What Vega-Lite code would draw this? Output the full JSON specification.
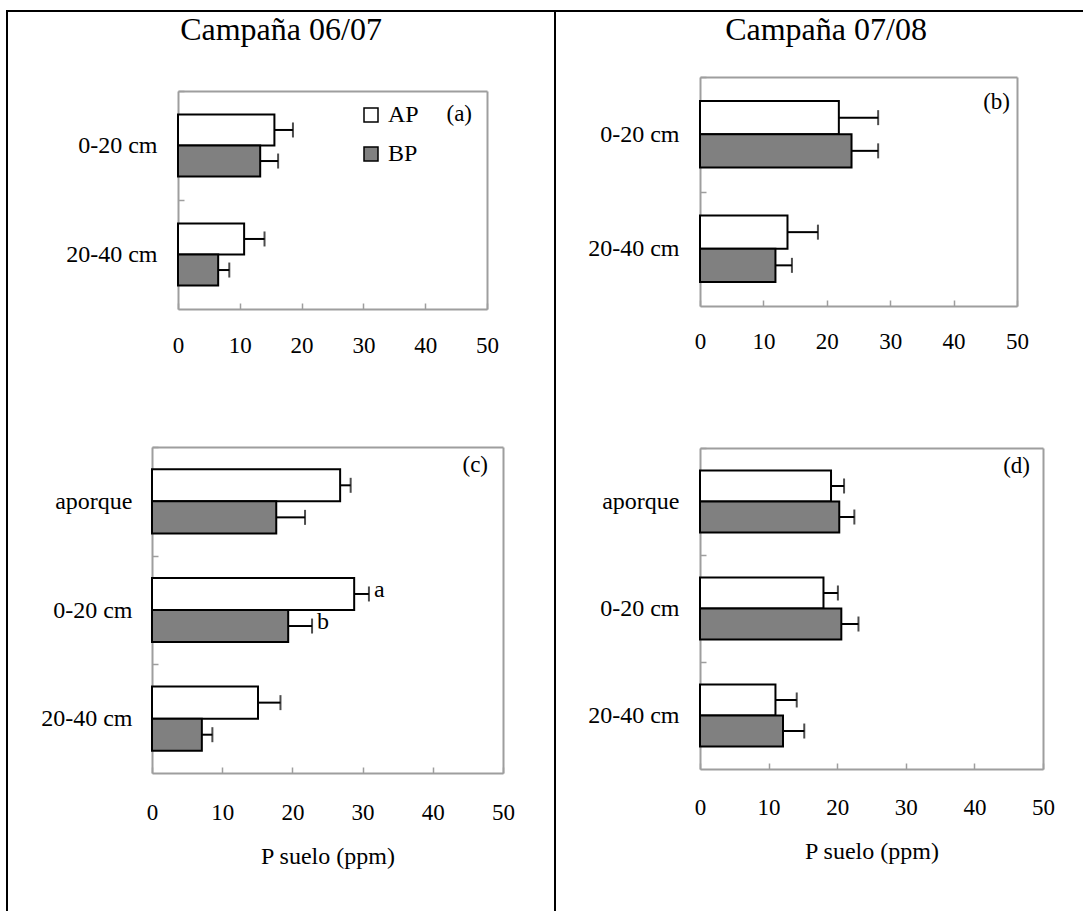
{
  "$schema": "https://vega.github.io/schema/vega-lite/v6.json",
  "padding": {"left": 6, "top": 10, "right": -21, "bottom": -11},
  "spacing": 0,
  "bounds": "flush",
  "resolve": {"scale": {"yOffset": "independent", "fill": "independent"}},
  "datasets": {
    "p": [
      {"panel": "a", "depth": "0-20 cm", "trat": "AP", "value": 15.6, "hi": 18.6, "sig": ""},
      {"panel": "a", "depth": "0-20 cm", "trat": "BP", "value": 13.3, "hi": 16.2, "sig": ""},
      {"panel": "a", "depth": "20-40 cm", "trat": "AP", "value": 10.7, "hi": 14.0, "sig": ""},
      {"panel": "a", "depth": "20-40 cm", "trat": "BP", "value": 6.5, "hi": 8.3, "sig": ""},
      {"panel": "b", "depth": "0-20 cm", "trat": "AP", "value": 21.9, "hi": 28.1, "sig": ""},
      {"panel": "b", "depth": "0-20 cm", "trat": "BP", "value": 23.9, "hi": 28.1, "sig": ""},
      {"panel": "b", "depth": "20-40 cm", "trat": "AP", "value": 13.8, "hi": 18.6, "sig": ""},
      {"panel": "b", "depth": "20-40 cm", "trat": "BP", "value": 11.9, "hi": 14.5, "sig": ""},
      {"panel": "c", "depth": "aporque", "trat": "AP", "value": 26.8, "hi": 28.3, "sig": ""},
      {"panel": "c", "depth": "aporque", "trat": "BP", "value": 17.7, "hi": 21.8, "sig": ""},
      {"panel": "c", "depth": "0-20 cm", "trat": "AP", "value": 28.8, "hi": 30.9, "sig": "a"},
      {"panel": "c", "depth": "0-20 cm", "trat": "BP", "value": 19.4, "hi": 22.8, "sig": "b"},
      {"panel": "c", "depth": "20-40 cm", "trat": "AP", "value": 15.1, "hi": 18.3, "sig": ""},
      {"panel": "c", "depth": "20-40 cm", "trat": "BP", "value": 7.1, "hi": 8.6, "sig": ""},
      {"panel": "d", "depth": "aporque", "trat": "AP", "value": 19.1, "hi": 21.0, "sig": ""},
      {"panel": "d", "depth": "aporque", "trat": "BP", "value": 20.3, "hi": 22.5, "sig": ""},
      {"panel": "d", "depth": "0-20 cm", "trat": "AP", "value": 18.0, "hi": 20.1, "sig": ""},
      {"panel": "d", "depth": "0-20 cm", "trat": "BP", "value": 20.6, "hi": 23.1, "sig": ""},
      {"panel": "d", "depth": "20-40 cm", "trat": "AP", "value": 11.0, "hi": 14.1, "sig": ""},
      {"panel": "d", "depth": "20-40 cm", "trat": "BP", "value": 12.1, "hi": 15.2, "sig": ""}
    ]
  },
  "data": {"name": "p"},
  "hconcat": [
    {
      "width": 548,
      "height": 910,
      "view": {"stroke": "black", "strokeWidth": 2, "fill": null},
      "resolve": {"scale": {"x": "independent", "y": "independent", "yOffset": "independent", "fill": "independent"}},
      "layer": [
        {
          "transform": [{"filter": "datum.panel == 'a'"}],
          "resolve": {"axis": {"x": "independent", "y": "independent"}},
          "layer": [
            {
              "mark": {"type": "bar", "stroke": "black", "strokeWidth": 2},
              "encoding": {
                "y": {"field": "depth", "type": "nominal", "scale": {"domain": ["0-20 cm", "20-40 cm"], "range": [80, 298], "paddingInner": 0.43, "paddingOuter": 0.215},
                  "axis": {"orient": "left", "offset": -171, "title": null, "domainColor": "#9e9e9e", "domainWidth": 2, "tickColor": "#9e9e9e", "tickWidth": 1.5, "tickSize": -6, "tickOffset": -54.5, "labelOffset": 54.5, "labelPadding": 27, "labelFontSize": 24, "labelColor": "black", "labelLimit": 300, "labelAngle": 0}},
                "yOffset": {"field": "trat", "type": "nominal", "scale": {"domain": ["AP", "BP"]}},
                "x": {"field": "value", "type": "quantitative", "scale": {"domain": [0, 50], "range": [171, 480], "nice": false, "zero": false},
                  "axis": {"orient": "bottom", "offset": -612, "title": null, "values": [0, 10, 20, 30, 40, 50], "grid": false, "domainColor": "#9e9e9e", "domainWidth": 2, "tickColor": "#9e9e9e", "tickWidth": 1.5, "tickSize": -6, "labelPadding": 31, "labelFontSize": 23, "labelColor": "black", "labelFlush": false}},
                "fill": {"field": "trat", "type": "nominal", "scale": {"domain": ["AP", "BP"], "range": ["white", "#808080"]},
                  "legend": {"orient": "none", "legendX": 352, "legendY": 92, "title": null, "symbolType": "square", "symbolSize": 196, "symbolStrokeColor": "black", "symbolStrokeWidth": 1.5, "labelFontSize": 24, "labelColor": "black", "labelOffset": 5, "rowPadding": 15, "padding": 0}}
              }
            },
            {
              "mark": {"type": "rule", "color": "black", "strokeWidth": 2},
              "encoding": {
                "y": {"field": "depth", "type": "nominal", "scale": {"domain": ["0-20 cm", "20-40 cm"], "range": [80, 298], "paddingInner": 0.43, "paddingOuter": 0.215}, "axis": null},
                "yOffset": {"field": "trat", "type": "nominal", "scale": {"domain": ["AP", "BP"]}},
                "x": {"field": "value", "type": "quantitative", "scale": {"domain": [0, 50], "range": [171, 480], "nice": false, "zero": false}, "axis": null},
                "x2": {"field": "hi"}
              }
            },
            {
              "mark": {"type": "tick", "orient": "vertical", "color": "black", "thickness": 2, "size": 15},
              "encoding": {
                "y": {"field": "depth", "type": "nominal", "scale": {"domain": ["0-20 cm", "20-40 cm"], "range": [80, 298], "paddingInner": 0.43, "paddingOuter": 0.215}, "axis": null},
                "yOffset": {"field": "trat", "type": "nominal", "scale": {"domain": ["AP", "BP"]}},
                "x": {"field": "hi", "type": "quantitative", "scale": {"domain": [0, 50], "range": [171, 480], "nice": false, "zero": false}, "axis": null}
              }
            },
            {
              "transform": [{"filter": "datum.depth == '0-20 cm' && datum.trat == 'AP'"}],
              "mark": {"type": "text", "text": "(a)", "fontSize": 23, "align": "right", "baseline": "middle", "dx": -15, "dy": -32, "color": "black"},
              "encoding": {
                "y": {"field": "depth", "type": "nominal", "scale": {"domain": ["0-20 cm", "20-40 cm"], "range": [80, 298], "paddingInner": 0.43, "paddingOuter": 0.215}, "axis": null},
                "x": {"datum": 50, "type": "quantitative", "scale": {"domain": [0, 50], "range": [171, 480], "nice": false, "zero": false}, "axis": null}
              }
            },
            {
              "transform": [{"filter": "datum.depth == '0-20 cm' && datum.trat == 'AP'"}],
              "mark": {"type": "text", "text": "Campaña 06/07", "fontSize": 32, "align": "center", "baseline": "alphabetic", "dx": -51.5, "dy": -105.5, "color": "black"},
              "encoding": {
                "y": {"field": "depth", "type": "nominal", "scale": {"domain": ["0-20 cm", "20-40 cm"], "range": [80, 298], "paddingInner": 0.43, "paddingOuter": 0.215}, "axis": null},
                "x": {"datum": 25, "type": "quantitative", "scale": {"domain": [0, 50], "range": [171, 480], "nice": false, "zero": false}, "axis": null}
              }
            },
            {
              "mark": {"type": "point", "opacity": 0},
              "encoding": {
                "y": {"field": "depth", "type": "nominal", "scale": {"domain": ["0-20 cm", "20-40 cm"], "range": [80, 298], "paddingInner": 0.43, "paddingOuter": 0.215},
                  "axis": {"orient": "right", "offset": -68, "title": null, "labels": false, "ticks": false, "domainColor": "#9e9e9e", "domainWidth": 2}},
                "x": {"field": "value", "type": "quantitative", "scale": {"domain": [0, 50], "range": [171, 480], "nice": false, "zero": false},
                  "axis": {"orient": "top", "offset": -80, "title": null, "labels": false, "ticks": false, "grid": false, "domainColor": "#9e9e9e", "domainWidth": 2}}
              }
            }
          ]
        },
        {
          "transform": [{"filter": "datum.panel == 'c'"}],
          "resolve": {"axis": {"x": "independent", "y": "independent"}},
          "layer": [
            {
              "mark": {"type": "bar", "stroke": "black", "strokeWidth": 2},
              "encoding": {
                "y": {"field": "depth", "type": "nominal", "scale": {"domain": ["aporque", "0-20 cm", "20-40 cm"], "range": [436, 762], "paddingInner": 0.41, "paddingOuter": 0.205},
                  "axis": {"orient": "left", "offset": -145, "title": null, "labelExpr": "datum.value == 'aporque' ? 'aporque\u00a0' : datum.value", "domainColor": "#9e9e9e", "domainWidth": 2, "tickColor": "#9e9e9e", "tickWidth": 1.5, "tickSize": -6, "tickOffset": -54.33, "labelOffset": 54.33, "labelPadding": 26, "labelFontSize": 24, "labelColor": "black", "labelLimit": 300, "labelAngle": 0}},
                "yOffset": {"field": "trat", "type": "nominal", "scale": {"domain": ["AP", "BP"]}},
                "x": {"field": "value", "type": "quantitative", "scale": {"domain": [0, 50], "range": [145, 496], "nice": false, "zero": false},
                  "axis": {"orient": "bottom", "offset": -148, "title": "P suelo (ppm)", "titleFontSize": 24, "titleFontWeight": "normal", "titleColor": "black", "titlePadding": 11, "minExtent": 60, "maxExtent": 60, "values": [0, 10, 20, 30, 40, 50], "grid": false, "domainColor": "#9e9e9e", "domainWidth": 2, "tickColor": "#9e9e9e", "tickWidth": 1.5, "tickSize": -6, "labelPadding": 34, "labelFontSize": 23, "labelColor": "black", "labelFlush": false}},
                "fill": {"field": "trat", "type": "nominal", "scale": {"domain": ["AP", "BP"], "range": ["white", "#808080"]}, "legend": null}
              }
            },
            {
              "mark": {"type": "rule", "color": "black", "strokeWidth": 2},
              "encoding": {
                "y": {"field": "depth", "type": "nominal", "scale": {"domain": ["aporque", "0-20 cm", "20-40 cm"], "range": [436, 762], "paddingInner": 0.41, "paddingOuter": 0.205}, "axis": null},
                "yOffset": {"field": "trat", "type": "nominal", "scale": {"domain": ["AP", "BP"]}},
                "x": {"field": "value", "type": "quantitative", "scale": {"domain": [0, 50], "range": [145, 496], "nice": false, "zero": false}, "axis": null},
                "x2": {"field": "hi"}
              }
            },
            {
              "mark": {"type": "tick", "orient": "vertical", "color": "black", "thickness": 2, "size": 15},
              "encoding": {
                "y": {"field": "depth", "type": "nominal", "scale": {"domain": ["aporque", "0-20 cm", "20-40 cm"], "range": [436, 762], "paddingInner": 0.41, "paddingOuter": 0.205}, "axis": null},
                "yOffset": {"field": "trat", "type": "nominal", "scale": {"domain": ["AP", "BP"]}},
                "x": {"field": "hi", "type": "quantitative", "scale": {"domain": [0, 50], "range": [145, 496], "nice": false, "zero": false}, "axis": null}
              }
            },
            {
              "transform": [{"filter": "datum.sig != ''"}],
              "mark": {"type": "text", "fontSize": 24, "align": "left", "baseline": "middle", "dx": 5, "dy": -4, "color": "black"},
              "encoding": {
                "y": {"field": "depth", "type": "nominal", "scale": {"domain": ["aporque", "0-20 cm", "20-40 cm"], "range": [436, 762], "paddingInner": 0.41, "paddingOuter": 0.205}, "axis": null},
                "yOffset": {"field": "trat", "type": "nominal", "scale": {"domain": ["AP", "BP"]}},
                "x": {"field": "hi", "type": "quantitative", "scale": {"domain": [0, 50], "range": [145, 496], "nice": false, "zero": false}, "axis": null},
                "text": {"field": "sig"}
              }
            },
            {
              "transform": [{"filter": "datum.depth == 'aporque' && datum.trat == 'AP'"}],
              "mark": {"type": "text", "text": "(c)", "fontSize": 23, "align": "right", "baseline": "middle", "dx": -15, "dy": -36, "color": "black"},
              "encoding": {
                "y": {"field": "depth", "type": "nominal", "scale": {"domain": ["aporque", "0-20 cm", "20-40 cm"], "range": [436, 762], "paddingInner": 0.41, "paddingOuter": 0.205}, "axis": null},
                "x": {"datum": 50, "type": "quantitative", "scale": {"domain": [0, 50], "range": [145, 496], "nice": false, "zero": false}, "axis": null}
              }
            },
            {
              "mark": {"type": "point", "opacity": 0},
              "encoding": {
                "y": {"field": "depth", "type": "nominal", "scale": {"domain": ["aporque", "0-20 cm", "20-40 cm"], "range": [436, 762], "paddingInner": 0.41, "paddingOuter": 0.205},
                  "axis": {"orient": "right", "offset": -52, "title": null, "labels": false, "ticks": false, "domainColor": "#9e9e9e", "domainWidth": 2}},
                "x": {"field": "value", "type": "quantitative", "scale": {"domain": [0, 50], "range": [145, 496], "nice": false, "zero": false},
                  "axis": {"orient": "top", "offset": -436, "title": null, "labels": false, "ticks": false, "grid": false, "domainColor": "#9e9e9e", "domainWidth": 2}}
              }
            }
          ]
        }
      ]
    },
    {
      "width": 548,
      "height": 910,
      "view": {"stroke": "black", "strokeWidth": 2, "fill": null},
      "resolve": {"scale": {"x": "independent", "y": "independent", "yOffset": "independent", "fill": "independent"}},
      "layer": [
        {
          "transform": [{"filter": "datum.panel == 'b'"}],
          "resolve": {"axis": {"x": "independent", "y": "independent"}},
          "layer": [
            {
              "mark": {"type": "bar", "stroke": "black", "strokeWidth": 2},
              "encoding": {
                "y": {"field": "depth", "type": "nominal", "scale": {"domain": ["0-20 cm", "20-40 cm"], "range": [66, 295], "paddingInner": 0.42, "paddingOuter": 0.21},
                  "axis": {"orient": "left", "offset": -145, "title": null, "domainColor": "#9e9e9e", "domainWidth": 2, "tickColor": "#9e9e9e", "tickWidth": 1.5, "tickSize": -6, "tickOffset": -57.25, "labelOffset": 57.25, "labelPadding": 27, "labelFontSize": 24, "labelColor": "black", "labelLimit": 300, "labelAngle": 0}},
                "yOffset": {"field": "trat", "type": "nominal", "scale": {"domain": ["AP", "BP"]}},
                "x": {"field": "value", "type": "quantitative", "scale": {"domain": [0, 50], "range": [145, 462], "nice": false, "zero": false},
                  "axis": {"orient": "bottom", "offset": -615, "title": null, "values": [0, 10, 20, 30, 40, 50], "grid": false, "domainColor": "#9e9e9e", "domainWidth": 2, "tickColor": "#9e9e9e", "tickWidth": 1.5, "tickSize": -6, "labelPadding": 30, "labelFontSize": 23, "labelColor": "black", "labelFlush": false}},
                "fill": {"field": "trat", "type": "nominal", "scale": {"domain": ["AP", "BP"], "range": ["white", "#808080"]}, "legend": null}
              }
            },
            {
              "mark": {"type": "rule", "color": "black", "strokeWidth": 2},
              "encoding": {
                "y": {"field": "depth", "type": "nominal", "scale": {"domain": ["0-20 cm", "20-40 cm"], "range": [66, 295], "paddingInner": 0.42, "paddingOuter": 0.21}, "axis": null},
                "yOffset": {"field": "trat", "type": "nominal", "scale": {"domain": ["AP", "BP"]}},
                "x": {"field": "value", "type": "quantitative", "scale": {"domain": [0, 50], "range": [145, 462], "nice": false, "zero": false}, "axis": null},
                "x2": {"field": "hi"}
              }
            },
            {
              "mark": {"type": "tick", "orient": "vertical", "color": "black", "thickness": 2, "size": 15},
              "encoding": {
                "y": {"field": "depth", "type": "nominal", "scale": {"domain": ["0-20 cm", "20-40 cm"], "range": [66, 295], "paddingInner": 0.42, "paddingOuter": 0.21}, "axis": null},
                "yOffset": {"field": "trat", "type": "nominal", "scale": {"domain": ["AP", "BP"]}},
                "x": {"field": "hi", "type": "quantitative", "scale": {"domain": [0, 50], "range": [145, 462], "nice": false, "zero": false}, "axis": null}
              }
            },
            {
              "transform": [{"filter": "datum.depth == '0-20 cm' && datum.trat == 'AP'"}],
              "mark": {"type": "text", "text": "(b)", "fontSize": 23, "align": "right", "baseline": "middle", "dx": -7, "dy": -32, "color": "black"},
              "encoding": {
                "y": {"field": "depth", "type": "nominal", "scale": {"domain": ["0-20 cm", "20-40 cm"], "range": [66, 295], "paddingInner": 0.42, "paddingOuter": 0.21}, "axis": null},
                "x": {"datum": 50, "type": "quantitative", "scale": {"domain": [0, 50], "range": [145, 462], "nice": false, "zero": false}, "axis": null}
              }
            },
            {
              "transform": [{"filter": "datum.depth == '0-20 cm' && datum.trat == 'AP'"}],
              "mark": {"type": "text", "text": "Campaña 07/08", "fontSize": 32, "align": "center", "baseline": "alphabetic", "dx": -32.5, "dy": -94.25, "color": "black"},
              "encoding": {
                "y": {"field": "depth", "type": "nominal", "scale": {"domain": ["0-20 cm", "20-40 cm"], "range": [66, 295], "paddingInner": 0.42, "paddingOuter": 0.21}, "axis": null},
                "x": {"datum": 25, "type": "quantitative", "scale": {"domain": [0, 50], "range": [145, 462], "nice": false, "zero": false}, "axis": null}
              }
            },
            {
              "mark": {"type": "point", "opacity": 0},
              "encoding": {
                "y": {"field": "depth", "type": "nominal", "scale": {"domain": ["0-20 cm", "20-40 cm"], "range": [66, 295], "paddingInner": 0.42, "paddingOuter": 0.21},
                  "axis": {"orient": "right", "offset": -86, "title": null, "labels": false, "ticks": false, "domainColor": "#9e9e9e", "domainWidth": 2}},
                "x": {"field": "value", "type": "quantitative", "scale": {"domain": [0, 50], "range": [145, 462], "nice": false, "zero": false},
                  "axis": {"orient": "top", "offset": -66, "title": null, "labels": false, "ticks": false, "grid": false, "domainColor": "#9e9e9e", "domainWidth": 2}}
              }
            }
          ]
        },
        {
          "transform": [{"filter": "datum.panel == 'd'"}],
          "resolve": {"axis": {"x": "independent", "y": "independent"}},
          "layer": [
            {
              "mark": {"type": "bar", "stroke": "black", "strokeWidth": 2},
              "encoding": {
                "y": {"field": "depth", "type": "nominal", "scale": {"domain": ["aporque", "0-20 cm", "20-40 cm"], "range": [437, 758], "paddingInner": 0.42, "paddingOuter": 0.21},
                  "axis": {"orient": "left", "offset": -145, "title": null, "labelExpr": "datum.value == 'aporque' ? 'aporque\u00a0' : datum.value", "domainColor": "#9e9e9e", "domainWidth": 2, "tickColor": "#9e9e9e", "tickWidth": 1.5, "tickSize": -6, "tickOffset": -53.5, "labelOffset": 53.5, "labelPadding": 27, "labelFontSize": 24, "labelColor": "black", "labelLimit": 300, "labelAngle": 0}},
                "yOffset": {"field": "trat", "type": "nominal", "scale": {"domain": ["AP", "BP"]}},
                "x": {"field": "value", "type": "quantitative", "scale": {"domain": [0, 50], "range": [145, 488], "nice": false, "zero": false},
                  "axis": {"orient": "bottom", "offset": -152, "title": "P suelo (ppm)", "titleFontSize": 24, "titleFontWeight": "normal", "titleColor": "black", "titlePadding": 10, "minExtent": 60, "maxExtent": 60, "values": [0, 10, 20, 30, 40, 50], "grid": false, "domainColor": "#9e9e9e", "domainWidth": 2, "tickColor": "#9e9e9e", "tickWidth": 1.5, "tickSize": -6, "labelPadding": 33, "labelFontSize": 23, "labelColor": "black", "labelFlush": false}},
                "fill": {"field": "trat", "type": "nominal", "scale": {"domain": ["AP", "BP"], "range": ["white", "#808080"]}, "legend": null}
              }
            },
            {
              "mark": {"type": "rule", "color": "black", "strokeWidth": 2},
              "encoding": {
                "y": {"field": "depth", "type": "nominal", "scale": {"domain": ["aporque", "0-20 cm", "20-40 cm"], "range": [437, 758], "paddingInner": 0.42, "paddingOuter": 0.21}, "axis": null},
                "yOffset": {"field": "trat", "type": "nominal", "scale": {"domain": ["AP", "BP"]}},
                "x": {"field": "value", "type": "quantitative", "scale": {"domain": [0, 50], "range": [145, 488], "nice": false, "zero": false}, "axis": null},
                "x2": {"field": "hi"}
              }
            },
            {
              "mark": {"type": "tick", "orient": "vertical", "color": "black", "thickness": 2, "size": 15},
              "encoding": {
                "y": {"field": "depth", "type": "nominal", "scale": {"domain": ["aporque", "0-20 cm", "20-40 cm"], "range": [437, 758], "paddingInner": 0.42, "paddingOuter": 0.21}, "axis": null},
                "yOffset": {"field": "trat", "type": "nominal", "scale": {"domain": ["AP", "BP"]}},
                "x": {"field": "hi", "type": "quantitative", "scale": {"domain": [0, 50], "range": [145, 488], "nice": false, "zero": false}, "axis": null}
              }
            },
            {
              "transform": [{"filter": "datum.depth == 'aporque' && datum.trat == 'AP'"}],
              "mark": {"type": "text", "text": "(d)", "fontSize": 23, "align": "right", "baseline": "middle", "dx": -13, "dy": -36, "color": "black"},
              "encoding": {
                "y": {"field": "depth", "type": "nominal", "scale": {"domain": ["aporque", "0-20 cm", "20-40 cm"], "range": [437, 758], "paddingInner": 0.42, "paddingOuter": 0.21}, "axis": null},
                "x": {"datum": 50, "type": "quantitative", "scale": {"domain": [0, 50], "range": [145, 488], "nice": false, "zero": false}, "axis": null}
              }
            },
            {
              "mark": {"type": "point", "opacity": 0},
              "encoding": {
                "y": {"field": "depth", "type": "nominal", "scale": {"domain": ["aporque", "0-20 cm", "20-40 cm"], "range": [437, 758], "paddingInner": 0.42, "paddingOuter": 0.21},
                  "axis": {"orient": "right", "offset": -60, "title": null, "labels": false, "ticks": false, "domainColor": "#9e9e9e", "domainWidth": 2}},
                "x": {"field": "value", "type": "quantitative", "scale": {"domain": [0, 50], "range": [145, 488], "nice": false, "zero": false},
                  "axis": {"orient": "top", "offset": -437, "title": null, "labels": false, "ticks": false, "grid": false, "domainColor": "#9e9e9e", "domainWidth": 2}}
              }
            }
          ]
        }
      ]
    }
  ],
  "config": {
    "font": "Liberation Serif",
    "background": "white",
    "axis": {"labelFont": "Liberation Serif", "titleFont": "Liberation Serif", "labelColor": "black"},
    "legend": {"labelFont": "Liberation Serif"},
    "title": {"font": "Liberation Serif", "color": "black"},
    "text": {"font": "Liberation Serif", "color": "black"}
  }
}
